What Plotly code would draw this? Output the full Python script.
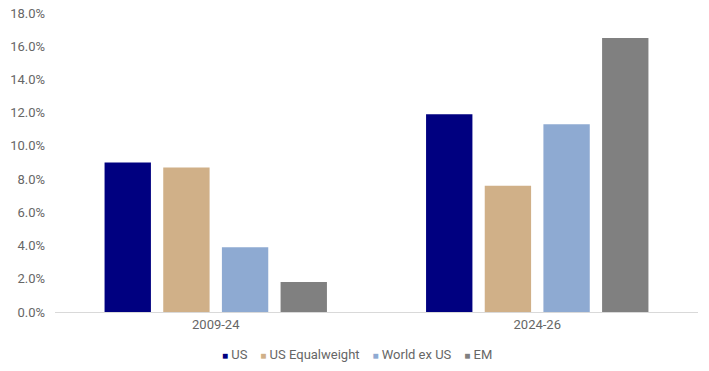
import plotly.graph_objects as go

categories = ["2009-24", "2024-26"]
series_names = ["US", "US Equalweight", "World ex US", "EM"]
us = [9.0, 11.9]
us_equalweight = [8.7, 7.6]
world_ex_us = [3.9, 11.3]
em = [1.8, 16.5]
colors = ["#000080", "#D0B088", "#8EAAD2", "#808080"]
y_ticks = [0, 2, 4, 6, 8, 10, 12, 14, 16, 18]
y_tick_labels = [f"{v:.1f}%" for v in y_ticks]

W, H = 709, 371
fig = go.Figure()
for name, vals, col in zip(series_names, [us, us_equalweight, world_ex_us, em], colors):
    fig.add_trace(go.Bar(x=categories, y=vals, name=name, showlegend=False,
                         marker=dict(color=col, line=dict(width=0))))

# legend drawn as one centred line of text (small coloured squares + labels)
legend_parts = [
    f"<span style='color:{c};font-size:10px'>■</span> {n}" for n, c in zip(series_names, colors)
]
legend_text = "&nbsp;&nbsp;&nbsp;&nbsp;".join(legend_parts)

fig.update_layout(
    width=W, height=H,
    margin=dict(l=54.5, r=10.5, t=13, b=59, autoexpand=False),
    paper_bgcolor="white", plot_bgcolor="white",
    barmode="group", bargap=0.27, bargroupgap=0.21,
    font=dict(family="Roboto", size=13, color="#666666"),
    showlegend=False,
    annotations=[dict(text=legend_text, xref="paper", yref="paper",
                      x=(357.4 - 54.5) / 644, y=-(354 - 312) / 299,
                      xanchor="center", yanchor="middle", showarrow=False,
                      font=dict(size=13, color="#666666"))],
)
fig.update_xaxes(showgrid=False, showline=True, linecolor="#D9D9D9", linewidth=1,
                 ticks="", automargin=False, tickfont=dict(size=13, color="#666666"))
fig.update_yaxes(range=[0, 18], tickvals=y_ticks, ticktext=y_tick_labels, showgrid=False,
                 zeroline=False, showline=False, ticks="", ticklabelstandoff=9,
                 automargin=False, tickfont=dict(size=13, color="#666666"))

fig.write_html("out.html", config={"displayModeBar": False},
               post_script="document.body.style.margin='0';")
